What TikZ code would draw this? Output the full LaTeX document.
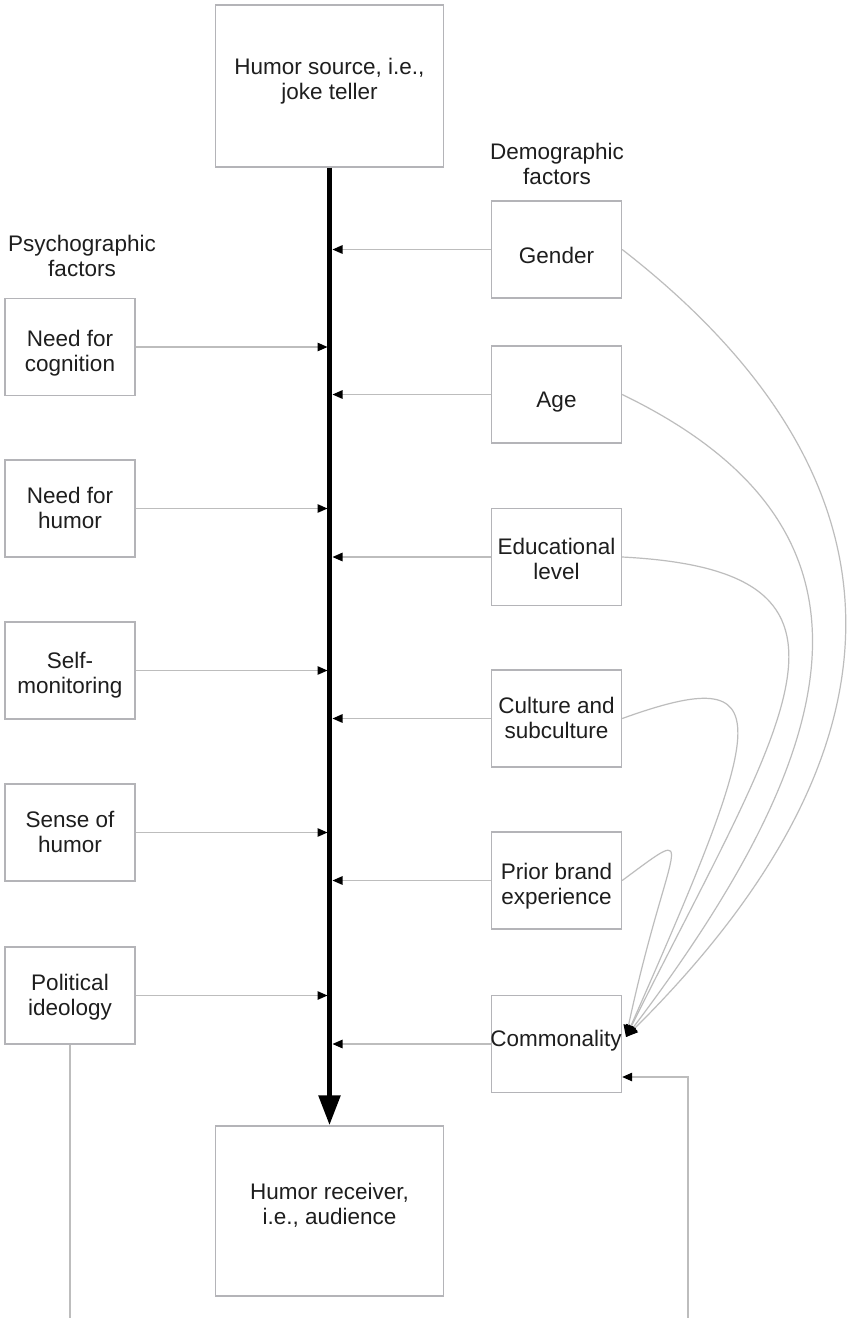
\documentclass[tikz,border=0pt]{standalone}
\usepackage{fontspec}
\setmainfont{Liberation Sans}
\usetikzlibrary{arrows.meta}
\definecolor{boxgray}{HTML}{B4B4B8}
\definecolor{linegray}{HTML}{BDBDBD}
\definecolor{ink}{HTML}{1E1E1E}
% stacked lines, lowered by #1 inside their box while keeping the box size
\newcommand\boxlines[2]{\raisebox{-#1}[\height][\depth]{\begin{tabular}{@{}c@{}}#2\end{tabular}}}
\tikzset{
  factorbox/.style={draw=boxgray, line width=1.4pt, minimum width=130pt, minimum height=97pt,
    align=center, inner sep=0pt, text=ink, font=\fontsize{22.5}{25}\selectfont},
  bigbox/.style={factorbox, minimum width=228pt},
  heading/.style={align=center, text=ink, font=\fontsize{22.5}{25}\selectfont},
  conn/.style={draw=linegray, line width=1.3pt},
  tipsmall/.style={-{Triangle[length=10pt,width=8.5pt,color=black]}},
  feeder/.style={draw=linegray, line width=1.2pt, -{Triangle[length=12pt,width=10pt,color=black]}},
  spine/.style={draw=black, line width=5.5pt, -{Triangle[length=30pt,width=21pt]}}
}
\begin{document}
\begin{tikzpicture}[x=1pt, y=-1pt]
  \useasboundingbox[fill=white] (0,0) rectangle (850,1318);

  % sender and receiver
  \node[bigbox, minimum height=162pt] (src) at (329.5,86) {\boxlines{-4pt}{Humor source, i.e.,\\joke teller}};
  \node[bigbox, minimum height=170pt] (rcv) at (329.5,1211) {\boxlines{-4pt}{Humor receiver,\\i.e., audience}};

  % group headings
  \node[heading] (psyhead) at (82,256) {Psychographic\\factors};
  \node[heading] (demhead) at (557,164) {Demographic\\factors};

  % psychographic factors (left column)
  \node[factorbox] (nfc) at (70,347)   {\boxlines{7pt}{Need for\\cognition}};
  \node[factorbox] (nfh) at (70,508.5) {\boxlines{2pt}{Need for\\humor}};
  \node[factorbox] (sm)  at (70,670.5) {\boxlines{5pt}{Self-\\monitoring}};
  \node[factorbox] (soh) at (70,832.5) {\boxlines{2pt}{Sense of\\humor}};
  \node[factorbox] (pi)  at (70,995.5) {\boxlines{2pt}{Political\\ideology}};

  % demographic factors (right column)
  \node[factorbox] (gender) at (556.5,249.5) {\boxlines{9pt}{Gender}};
  \node[factorbox] (age)    at (556.5,394.5) {\boxlines{8pt}{Age}};
  \node[factorbox] (edu)    at (556.5,557)   {\boxlines{5pt}{Educational\\level}};
  \node[factorbox] (cult)   at (556.5,718.5) {\boxlines{2pt}{Culture and\\subculture}};
  \node[factorbox] (prior)  at (556.5,880.5) {\boxlines{6pt}{Prior brand\\experience}};
  \node[factorbox] (comm)   at (556.5,1044)  {};
  \node[heading] (commtext) at (556,1041) {Commonality};

  % reference points on the spine and loose line ends
  \coordinate (spL) at (327.5,0);
  \coordinate (spR) at (332.5,0);
  \coordinate (hub) at (626,1037);
  \coordinate (botL) at (70,1320);
  \coordinate (botR) at (688,1320);

  % main communication spine
  \draw[spine] (src.south) -- (rcv.north);

  % psychographic inputs
  \foreach \n in {nfc,nfh,sm,soh,pi}
    \draw[conn, tipsmall] (\n.east) -- (\n.east -| spL);

  % demographic inputs
  \foreach \n in {gender,age,edu,cult,prior,comm}
    \draw[conn, tipsmall] (\n.west) -- (\n.west -| spR);

  % demographic factors feeding commonality
  \draw[feeder] (gender.east) .. controls (906,470) and (930,735) .. (hub);
  \draw[feeder] (age.east)    .. controls (892,525) and (856,733) .. (hub);
  \draw[feeder] (edu.east)    .. controls (895,571) and (785,718) .. (hub);
  \draw[feeder] (cult.east)   .. controls (782,661) and (768,715) .. (hub);
  \draw[feeder] (prior.east)  .. controls (704,820) and (668,841) .. (hub);

  % feedback lines
  \draw[conn] (pi.south) -- (botL);
  \draw[conn, tipsmall] (botR) |- ([yshift=-33pt]comm.east);
\end{tikzpicture}
\end{document}
